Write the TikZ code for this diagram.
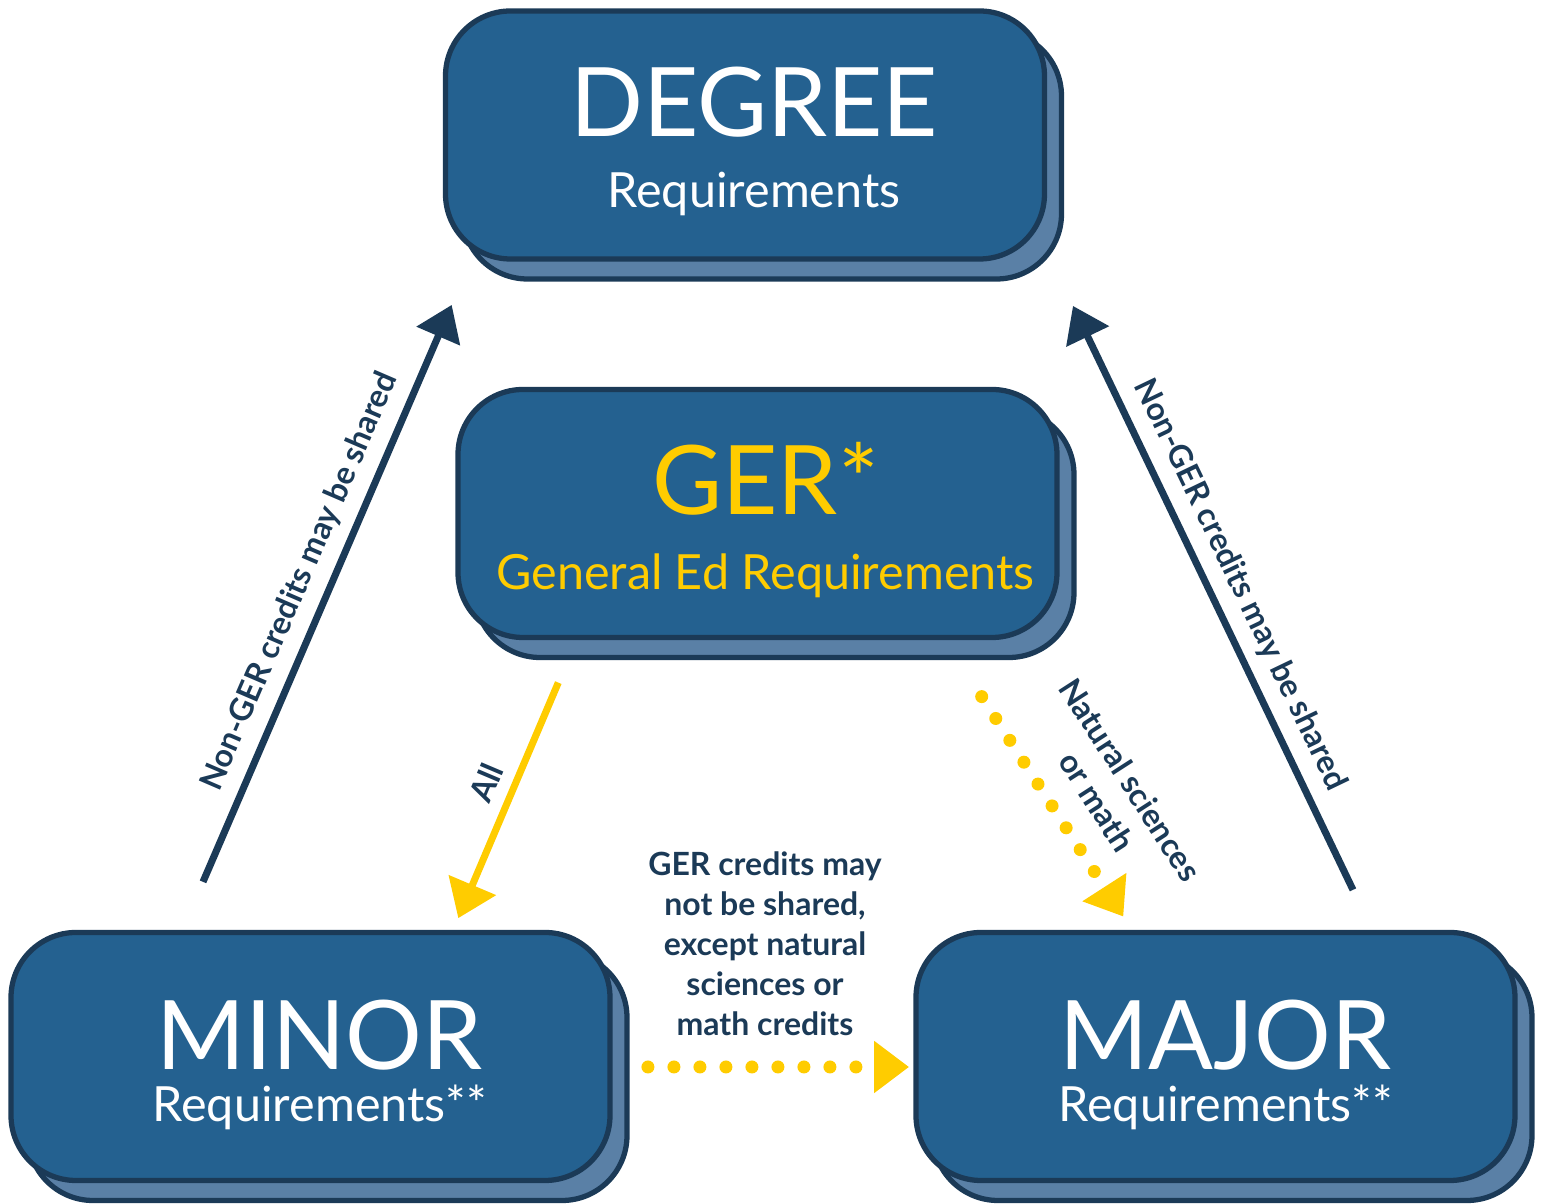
\documentclass[tikz,border=0pt]{standalone}
\usepackage{fontspec}
\setmainfont{Lato}
\usetikzlibrary{arrows.meta}
\definecolor{boxblue}{HTML}{246190}
\definecolor{backblue}{HTML}{5A80A6}
\definecolor{navy}{HTML}{1B3A57}
\definecolor{gold}{HTML}{FFCC00}
\tikzset{
  reqbox/.style={draw=navy, line width=1.5pt, fill=boxblue, rounded corners=0.65cm,
    minimum width=5.99cm, minimum height=2.48cm, inner sep=0pt},
  reqback/.style={reqbox, fill=backblue},
  bigtitle/.style={text=white, font=\fontsize{27.3}{30}\selectfont, inner sep=0pt, anchor=base},
  subtitle/.style={text=white, font=\fontsize{13.8}{16}\selectfont, inner sep=0pt, anchor=base},
  credit/.style={text=navy, font=\bfseries\fontsize{9.1}{11.4}\selectfont, align=center},
  share/.style={navy, line width=2pt, -{Triangle[length=0.34cm,width=0.46cm]}},
  allarrow/.style={gold, line width=2pt, -{Triangle[length=0.36cm,width=0.5cm]}},
  dotarrow/.style={gold, line width=0.13cm, line cap=round, dash pattern=on 0pt off 0.26cm,
    -{Triangle[length=0.35cm,width=0.5cm]}},
}
\begin{document}
\begin{tikzpicture}
    \useasboundingbox (0,0) rectangle (15.46,12.04);
    % plates behind
    \node[reqback] (degree-back) at (7.62,10.49) {};
    \node[reqback] (ger-back) at (7.745,6.705) {};
    \node[reqback] (minor-back) at (3.275,1.275) {};
    \node[reqback] (major-back) at (12.325,1.275) {};
    % front boxes
    \node[reqbox] (degree) at (7.45,10.69) {};
    \node[reqbox] (ger) at (7.575,6.905) {};
    \node[reqbox] (minor) at (3.105,1.475) {};
    \node[reqbox] (major) at (12.155,1.475) {};
    \path (degree) +(0.09,-0.02) node[bigtitle] (degree-title) {DEGREE}
        +(0.09,-0.73) node[subtitle] (degree-sub) {Requirements};
    \path (ger) +(0.08,-0.015) node[bigtitle,text=gold] (ger-title) {GER*}
        +(0.08,-0.765) node[subtitle,text=gold] (ger-sub) {General Ed Requirements};
    \path (minor) +(0.09,-0.135) node[bigtitle] (minor-title) {MINOR}
        +(0.09,-0.655) node[subtitle] (minor-sub) {Requirements**};
    \path (major) +(0.1,-0.135) node[bigtitle] (major-title) {MAJOR}
        +(0.1,-0.655) node[subtitle] (major-sub) {Requirements**};
    \node[credit] (rule) at (7.65,2.6) {GER credits may\\not be shared,\\except natural\\sciences or\\math credits};
    % connectors
    \draw[share] ([shift={(-1.075,0.48)}]minor.north) -- node[pos=0.5,above,sloped,credit] (left-note)
        {Non-GER credits may be shared} ([shift={(-2.933,-0.433)}]degree.south);
    \draw[share] ([shift={(1.375,0.40)}]major.north) -- node[pos=0.5,above,sloped,credit] (right-note)
        {Non-GER credits may be shared} ([shift={(3.28,-0.443)}]degree.south);
    \draw[allarrow] ([shift={(-1.992,-0.425)}]ger.south) -- node[pos=0.47,above,sloped,credit] (all-note)
        {All} ([shift={(1.478,0.117)}]minor.north);
    \draw[dotarrow] ([shift={(2.242,-0.565)}]ger.south) -- node[pos=0.575,above=0.1cm,sloped,credit] (nat-note)
        {Natural sciences\\or math} ([shift={(-0.922,0.133)}]major.north);
    \draw[dotarrow] ([shift={(0.353,-0.105)}]minor.east) -- ([shift={(-0.043,-0.105)}]major.west);
\end{tikzpicture}
\end{document}
